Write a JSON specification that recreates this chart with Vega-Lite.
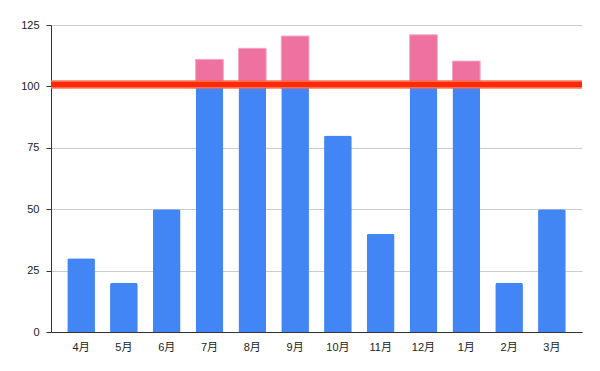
{
  "$schema": "https://vega.github.io/schema/vega-lite/v6.json",
  "width": 531,
  "height": 307,
  "autosize": {"type": "none"},
  "padding": {"left": 51, "top": 25, "right": 18, "bottom": 39},
  "background": "white",
  "config": {
    "view": {"stroke": null},
    "axis": {"labelFont": "Liberation Sans, Noto Sans CJK JP", "labelFontSize": 11, "labelColor": "#222222"}
  },
  "data": {
    "values": [
      {"month": "4月", "value": 30},
      {"month": "5月", "value": 20},
      {"month": "6月", "value": 50},
      {"month": "7月", "value": 111},
      {"month": "8月", "value": 115.5},
      {"month": "9月", "value": 120.5},
      {"month": "10月", "value": 80},
      {"month": "11月", "value": 40},
      {"month": "12月", "value": 121},
      {"month": "1月", "value": 110.3},
      {"month": "2月", "value": 20},
      {"month": "3月", "value": 50}
    ]
  },
  "layer": [
    {
      "mark": {"type": "bar", "color": "#4285f4", "cornerRadiusTopLeft": 2, "cornerRadiusTopRight": 2},
      "encoding": {
        "x": {
          "field": "month", "type": "nominal", "sort": null,
          "scale": {"paddingInner": 0.353, "paddingOuter": 0.38},
          "axis": {"title": null, "labelAngle": 0, "ticks": false, "labelPadding": 9, "domainColor": "#333333", "domainWidth": 1}
        },
        "y": {
          "field": "value", "type": "quantitative",
          "scale": {"domain": [0, 125], "nice": false},
          "axis": {"title": null, "values": [0, 25, 50, 75, 100, 125], "tickColor": "#333333", "tickSize": 5, "labelPadding": 7, "domainColor": "#333333", "gridColor": "#cccccc", "domain": true}
        }
      }
    },
    {
      "transform": [{"filter": "datum.value > 100"}],
      "mark": {"type": "bar", "color": "#ee72a0", "stroke": "#f5a8c6", "strokeWidth": 1},
      "encoding": {
        "x": {"field": "month", "type": "nominal", "sort": null},
        "y": {"field": "value", "type": "quantitative"},
        "y2": {"datum": 100}
      }
    },
    {
      "mark": {"type": "rule", "color": "#ff6a55", "strokeWidth": 7.5, "opacity": 0.35},
      "encoding": {"y": {"datum": 100.8}}
    },
    {
      "mark": {"type": "rule", "color": "#ff2a00", "strokeWidth": 5},
      "encoding": {"y": {"datum": 100.8}}
    }
  ]
}
